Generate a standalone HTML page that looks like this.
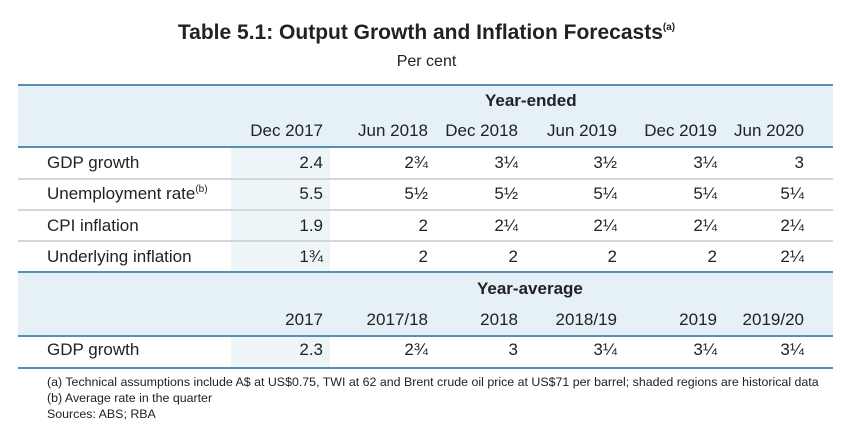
<!DOCTYPE html>
<html><head><meta charset="utf-8"><style>
body{margin:0;width:853px;height:434px;background:#fff;font-family:"Liberation Sans",sans-serif;color:#222;position:relative;overflow:hidden}
div{position:absolute}
sup{line-height:0;vertical-align:0;position:relative;top:-7px}
.t{white-space:nowrap;font-size:17px;line-height:20px}
.r{text-align:right;width:120px}
.band{left:18px;width:815px;background:#e5f0f7}
.ln{left:18px;width:815px;height:2px}
.blue{background:#5b8fad}
.grey{background:#d6d6d6}
.shade{left:231px;width:99px;background:#eef5f9}
</style></head><body>
<div style="left:0;width:853px;top:20px;text-align:center;font-weight:bold;font-size:21px;line-height:26px">Table 5.1: Output Growth and Inflation Forecasts<sup style="font-size:10px;top:-9px">(a)</sup></div>
<div style="left:0;width:853px;top:53px;text-align:center;font-size:16px">Per cent</div>

<div class="band" style="top:85px;height:62px"></div>
<div class="ln blue" style="top:84px;height:2px"></div>
<div class="ln blue" style="top:146px"></div>
<div class="shade" style="top:148px;height:124px"></div>
<div class="ln grey" style="top:178px"></div>
<div class="ln grey" style="top:209px"></div>
<div class="ln grey" style="top:240px"></div>
<div class="band" style="top:272px;height:63px"></div>
<div class="ln blue" style="top:271px"></div>
<div class="ln blue" style="top:335px"></div>
<div class="shade" style="top:337px;height:31px"></div>
<div class="ln blue" style="top:367px"></div>

<div class="t" style="left:47px;top:372px;font-size:12.4px">(a) Technical assumptions include A$ at US$0.75, TWI at 62 and Brent crude oil price at US$71 per barrel; shaded regions are historical data</div>
<div class="t" style="left:47px;top:388px;font-size:12.4px">(b) Average rate in the quarter</div>
<div class="t" style="left:47px;top:404px;font-size:12.4px">Sources: ABS; RBA</div>

<script>
const colRight=[323,428,518,617,717,804];
const headers1=["Dec 2017","Jun 2018","Dec 2018","Jun 2019","Dec 2019","Jun 2020"];
const headers2=["2017","2017/18","2018","2018/19","2019","2019/20"];
const rowLabels=["GDP growth","Unemployment rate","CPI inflation","Underlying inflation"];
const rowValues=[["2.4","2¾","3¼","3½","3¼","3"],["5.5","5½","5½","5¼","5¼","5¼"],["1.9","2","2¼","2¼","2¼","2¼"],["1¾","2","2","2","2","2¼"]];
const avgValues=["2.3","2¾","3","3¼","3¼","3¼"];
const root=document.body;
function txt(s,x,y,name,right,bold){
  const d=document.createElement('div');
  d.className='t'+(right?' r':'');
  d.style.left=(right?x-120:x)+'px';d.style.top=(y-10)+'px';
  if(bold)d.style.fontWeight='bold';
  d.innerHTML=s;
  
  
  root.appendChild(d);return d;
}
txt('Year-ended',485,101,'group-header-year-ended',false,true);
txt('Year-average',477,289,'group-header-year-average',false,true);
headers1.forEach((h,i)=>txt(h,colRight[i],131,'column-header',true));
headers2.forEach((h,i)=>txt(h,colRight[i],320,'column-header',true));
const rowY=[163,194,226,257];
rowLabels.forEach((l,r)=>{
  txt(l+(r==1?'<sup style="font-size:10px">(b)</sup>':''),47,rowY[r],'row-label');
  rowValues[r].forEach((v,i)=>txt(v,colRight[i],rowY[r],'cell-value',true));
});
txt('GDP growth',47,350,'row-label');
avgValues.forEach((v,i)=>txt(v,colRight[i],350,'cell-value',true));
</script>
</body></html>
